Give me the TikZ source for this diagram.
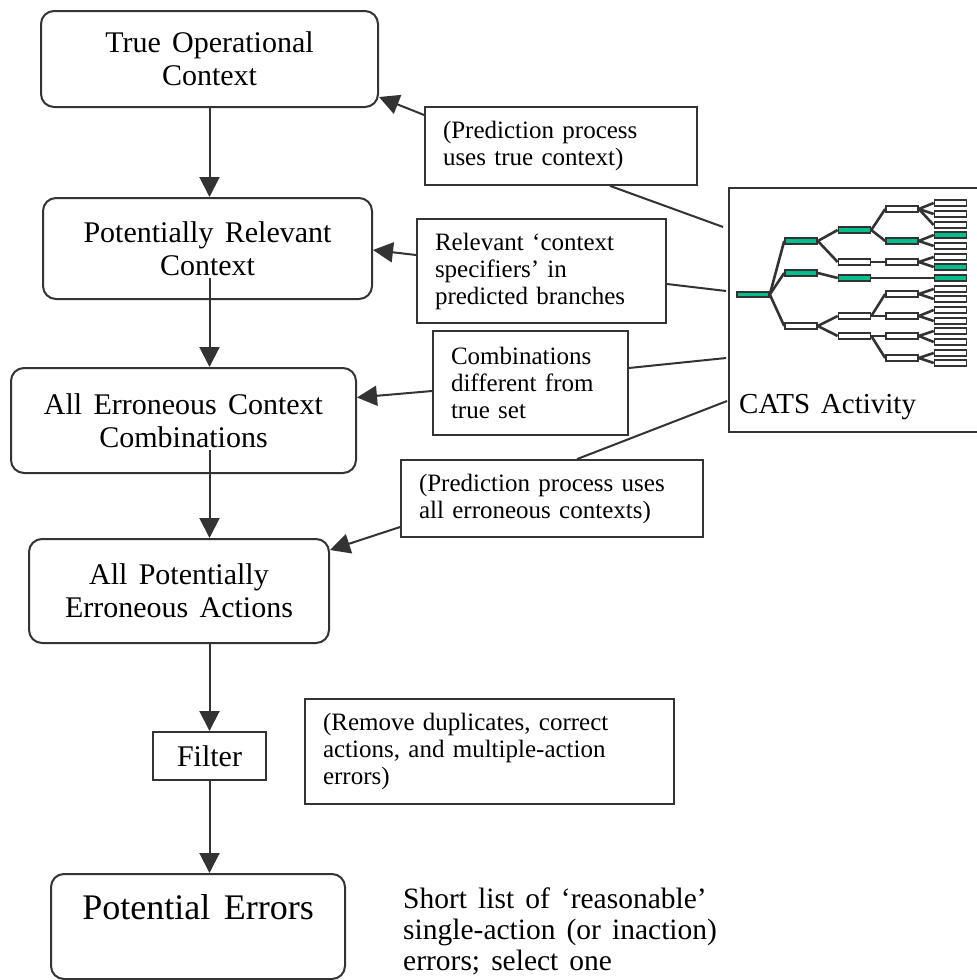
\documentclass[tikz,border=0pt]{standalone}
\usepackage{fontspec}
\setmainfont{Liberation Serif}[WordSpace=1.5]
\usetikzlibrary{arrows.meta}
\definecolor{ink}{RGB}{51,51,51}
\definecolor{catsgreen}{RGB}{0,190,140}
\begin{document}
\begin{tikzpicture}[x=1pt,y=-1pt,
  mainbox/.style={draw=ink, line width=2pt, rounded corners=13pt, align=center, inner sep=0pt, font=\fontsize{30}{33}\selectfont},
  annot/.style={draw=ink, line width=1.8pt, align=left, inner xsep=18pt, inner ysep=0pt, font=\fontsize{25}{27}\selectfont},
  arr/.style={draw=ink, line width=2pt, -{Triangle[width=20pt,length=20pt]}},
  link/.style={draw=ink, line width=2pt},
  leaf/.style={draw=ink, line width=1.6pt, minimum width=32pt, minimum height=5.5pt, inner sep=0pt, fill=white},
  gleaf/.style={leaf, fill=catsgreen},
  tedge/.style={draw=ink, line width=2.6pt}
]
\useasboundingbox (0,0) rectangle (977,980);

% main flow
\node[mainbox, minimum width=337pt, minimum height=96pt] (b1) at (209.5,59) {True Operational\\Context};
\node[mainbox, minimum width=329pt, minimum height=101pt] (b2) at (207.5,248.5) {Potentially Relevant\\Context};
\node[mainbox, minimum width=345pt, minimum height=105pt] (b3) at (183.5,420.5) {All Erroneous Context\\Combinations};
\node[mainbox, minimum width=300pt, minimum height=104pt] (b4) at (179,591) {All Potentially\\Erroneous Actions};
\node[draw=ink, line width=2pt, minimum width=113pt, minimum height=48pt, inner sep=0pt, font=\fontsize{30}{33}\selectfont] (filter) at (209.5,756) {Filter};
\node[mainbox, font=\fontsize{36}{40}\selectfont, text height=25pt, text depth=40pt, minimum width=294pt, minimum height=105pt] (pe) at (198,926.5) {Potential Errors};

\coordinate (axis) at (209.5,0);
\draw[arr] (axis |- b1.south) -- (axis |- b2.north);
\draw[arr] ([yshift=22pt]axis |- b2.south) -- (axis |- b3.north);
\draw[arr] ([yshift=24pt]axis |- b3.south) -- (axis |- b4.north);
\draw[arr] (axis |- b4.south) -- (axis |- filter.north);
\draw[arr] (axis |- filter.south) -- (axis |- pe.north);

% annotations
\node[annot, text width=236pt, minimum height=78pt] (a1) at (561,146) {(Prediction process\\uses true context)};
\node[annot, text width=213pt, minimum height=104pt] (a2) at (541.5,271) {Relevant ‘context\\specifiers’ in\\predicted branches};
\node[annot, text width=159pt, minimum height=104pt] (a3) at (530.5,383) {Combinations\\different from\\true set};
\node[annot, text width=266pt, minimum height=77pt] (a4) at (552,498.5) {(Prediction process uses\\all erroneous contexts)};
\node[annot, text width=333pt, minimum height=105pt] (a5) at (489.5,751.5) {(Remove duplicates, correct\\actions, and multiple-action\\errors)};

\node[anchor=north west, inner sep=0pt, align=left, font=\fontsize{29.5}{31}\selectfont] (shortlist) at (403,888) {Short list of ‘reasonable’\\single-action (or inaction)\\errors; select one};

\draw[arr] ([yshift=31pt]a1.west) -- ([yshift=-38pt]b1.east);
\draw[arr] ([yshift=16pt]a2.west) -- ([yshift=-1.5pt]b2.east);
\draw[arr] ([yshift=-8pt]a3.west) -- ([yshift=23pt]b3.east);
\draw[arr] ([yshift=-28.5pt]a4.west) -- ([yshift=41pt]b4.east);

% CATS activity box
\node[draw=ink, line width=1.8pt, minimum width=262pt, minimum height=244pt, inner sep=0pt] (cats) at (860,310) {};
\node[anchor=base west, inner sep=0pt, font=\fontsize{29}{31}\selectfont] (catslbl) at (739,413) {CATS Activity};

\coordinate (c1) at ([xshift=-5pt,yshift=83pt]cats.west);
\coordinate (c2) at ([xshift=-2pt,yshift=19pt]cats.west);
\coordinate (c3) at ([xshift=-2pt,yshift=-48pt]cats.west);
\coordinate (c4) at ([xshift=-1pt,yshift=-91pt]cats.west);
\draw[link] ([xshift=49pt]a1.south) -- (c1);
\draw[link] ([yshift=-13pt]a2.east) -- (c2);
\draw[link] ([yshift=15pt]a3.east) -- (c3);
\draw[link] ([xshift=25pt]a4.north) -- (c4);

% tree
\node[gleaf] (r) at (753,294.5) {};
\node[gleaf] (a) at (801,241) {};
\node[gleaf] (b) at (801,273) {};
\node[leaf] (c) at (801,326) {};
\node[gleaf] (aa) at (854.5,230) {};
\node[leaf] (ab) at (854.5,262) {};
\node[gleaf] (ba) at (854.5,278) {};
\node[leaf] (ca) at (854.5,316) {};
\node[leaf] (cb) at (854.5,336) {};
\node[leaf] (aaa) at (902,209) {};
\node[gleaf] (aab) at (902,241) {};
\node[leaf] (aba) at (902,262) {};
\node[leaf] (caa) at (902,294) {};
\node[leaf] (cab) at (902,316) {};
\node[leaf] (cba) at (902,336) {};
\node[leaf] (cbb) at (902,358) {};
\foreach \n/\y/\s in {1/203/leaf,2/214/leaf,3/225/leaf,4/235/gleaf,5/246/leaf,6/257/leaf,7/267/gleaf,8/278/gleaf,9/289/leaf,10/299/leaf,11/310/leaf,12/321/leaf,13/331/leaf,14/342/leaf,15/353/leaf,16/363/leaf}
  \node[\s] (l\n) at (950.5,\y) {};

\foreach \p/\q in {r/a,r/b,r/c,a/aa,a/ab,b/ba,c/ca,c/cb,aa/aaa,aa/aab,ab/aba,ba/l8,ca/caa,ca/cab,cb/cba,cb/cbb,aaa/l1,aaa/l2,aaa/l3,aab/l4,aab/l5,aba/l6,aba/l7,caa/l9,caa/l10,cab/l11,cab/l12,cba/l13,cba/l14,cbb/l15,cbb/l16}
  \draw[tedge] (\p.east) -- (\q.west);
\end{tikzpicture}
\end{document}
